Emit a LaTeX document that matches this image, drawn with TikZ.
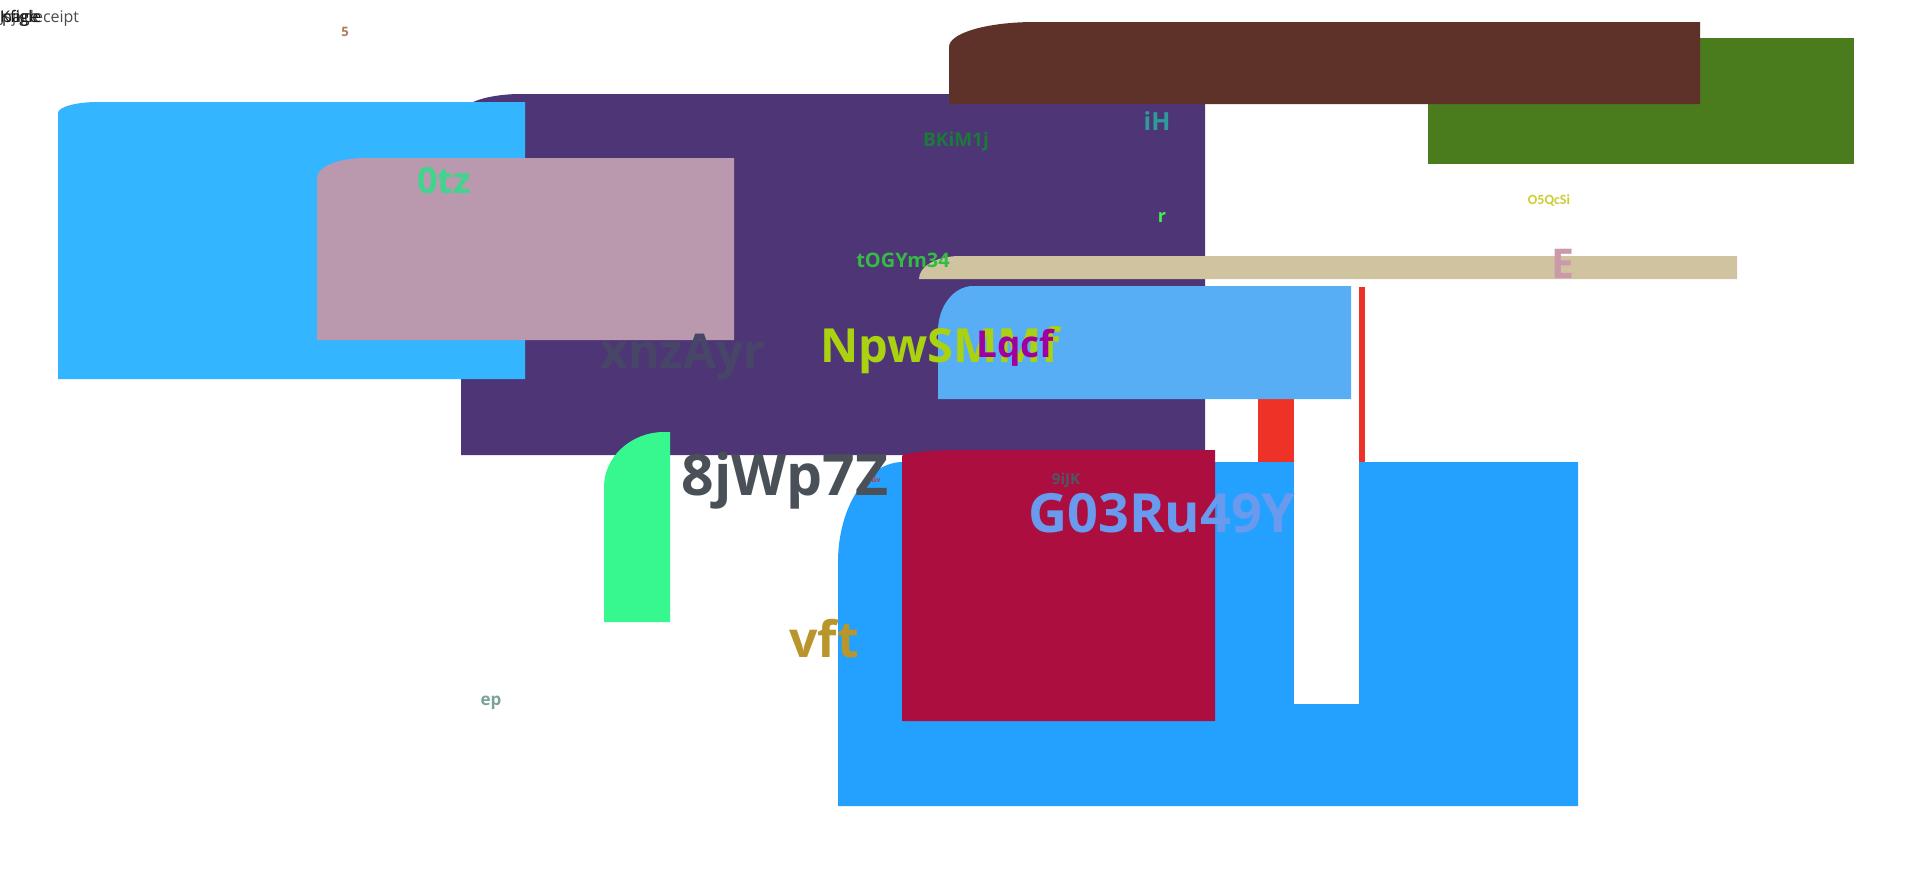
\documentclass[tikz,border=0pt]{standalone}
\usepackage{fontspec}
\setmainfont{Open Sans}
\newfontfamily\carl{Carlito}
\tikzset{
  lbl/.style={anchor=base, inner sep=0pt, font=\bfseries},
  toptxt/.style={anchor=base west, inner sep=0pt},
}
\newcommand{\fs}[1]{\fontsize{#1}{#1}\selectfont}
\definecolor{cBlueL}{HTML}{33B5FF}
\definecolor{cPurple}{HTML}{4E3575}
\definecolor{cPink}{HTML}{BA99AE}
\definecolor{cBrown}{HTML}{5E3229}
\definecolor{cGreen}{HTML}{4A7C1E}
\definecolor{cTan}{HTML}{D0C4A0}
\definecolor{cSky}{HTML}{58AEF5}
\definecolor{cRed}{HTML}{EF3228}
\definecolor{cBlueB}{HTML}{24A0FF}
\definecolor{cCrim}{HTML}{AD0E40}
\definecolor{cMint}{HTML}{36F88F}
\begin{document}
\begin{tikzpicture}[x=1pt,y=-1pt]
\useasboundingbox (0,0) rectangle (1920,870);
\fill[white] (0,0) rectangle (1920,870);
% purple
\fill[cPurple] (461,455) -- (461,114) .. controls (461,103) and (488,94) .. (521,94) -- (1205,94) -- (1205,455) -- cycle;
% left blue
\fill[cBlueL] (58,379) -- (58,113) .. controls (58,107) and (76,102) .. (98,102) -- (525,102) -- (525,379) -- cycle;
% pink
\fill[cPink] (317,340) -- (317,178) .. controls (317,167) and (338,158) .. (365,158) -- (734,158) -- (734,340) -- cycle;
% green
\fill[cGreen] (1428,38) rectangle (1854,164);
% brown
\fill[cBrown] (949,104) -- (949,47) .. controls (949,33) and (987,22) .. (1035,22) -- (1700,22) -- (1700,104) -- cycle;
% tan bar
\fill[cTan] (919,279) .. controls (919,266) and (937,256) .. (960,256) -- (1737,256) -- (1737,279) -- cycle;
% red rect and line
\fill[cRed] (1258,390) rectangle (1294,462);
\fill[cRed] (1359,287) rectangle (1365,462);
% light blue
\fill[cSky] (938,399) -- (938,331) .. controls (938,306) and (954,286) .. (973,286) -- (1351,286) -- (1351,399) -- cycle;
% big blue
\fill[cBlueB] (838,806) -- (838,562) .. controls (838,507) and (867,462) .. (903,462) -- (1578,462) -- (1578,806) -- cycle;
% white gap
\fill[white] (1294,462) rectangle (1359,704);
% crimson
\fill[cCrim] (902,721) -- (902,456) .. controls (902,453) and (929,450) .. (962,450) -- (1215,450) -- (1215,721) -- cycle;
% mint
\fill[cMint] (604,622) -- (604,487) .. controls (604,457) and (631,432) .. (664,432) -- (670,432) -- (670,622) -- cycle;
% texts
\node[toptxt, text=black!70, font=\fs{16}] (t0) at (0,22) {Jsjkdeceipt};
\node[toptxt, text=black!90, font=\fs{16}] (t0b) at (0,22) {Kfigle};
\node[toptxt, text=black!90, font=\fs{16}] (t0c) at (2,22) {page};
\node[lbl, text={rgb,255:red,176;green,122;blue,88}, font=\bfseries\fs{13}] (t5) at (345,36) {5};
\node[lbl, text={rgb,255:red,61;green,214;blue,140}, font=\bfseries\fs{36}] (t0tz) at (444,193) {0tz};
\node[lbl, text={rgb,255:red,26;green,122;blue,58}, font=\bfseries\fs{19}] (tbk) at (956,146) {BKiM1j};
\node[lbl, text={rgb,255:red,46;green,154;blue,154}, font=\bfseries\fs{25}] (tih) at (1157,130) {iH};
\node[lbl, text={rgb,255:red,68;green,238;blue,85}, font=\bfseries\fs{18}] (tr) at (1162,222) {r};
\node[lbl, text={rgb,255:red,204;green,204;blue,51}, font=\carl\bfseries\fs{14}] (to5) at (1549,204) {O5QcSi};
\node[lbl, text={rgb,255:red,51;green,187;blue,68}, font=\bfseries\fs{20}] (tog) at (903,267) {tOGYm34};
\node[lbl, text={rgb,255:red,204;green,153;blue,170}, font=\bfseries\fs{41}] (tE) at (1563,278) {E};
\node[lbl, text={rgb,255:red,72;green,70;blue,104}, font=\bfseries\fs{48}] (txn) at (683,368) {xnzAyr};
\node[lbl, text={rgb,255:red,170;green,210;blue,16}, font=\bfseries\fs{47}] (tnp) at (940,362) {NpwSMMf};
\node[lbl, text={rgb,255:red,160;green,0;blue,160}, font=\bfseries\fs{37}] (tlq) at (1015,357) {Lqcf};
\node[lbl, text={rgb,255:red,74;green,80;blue,88}, font=\bfseries\fs{57}] (t8j) at (785,495) {8jWp7Z};
\node[lbl, text={rgb,255:red,200;green,50;blue,50}, font=\bfseries\fs{7}] (tgv) at (876,482) {Gv};
\node[lbl, text={rgb,255:red,74;green,90;blue,100}, font=\bfseries\fs{15}] (t9i) at (1066,484) {9iJK};
\node[lbl, text={rgb,255:red,106;green,154;blue,238}, font=\bfseries\fs{54}] (tg0) at (1162,532) {G03Ru49Y};
\node[lbl, text={rgb,255:red,184;green,150;blue,44}, font=\bfseries\fs{50}] (tvf) at (824,657) {vft};
\node[lbl, text={rgb,255:red,122;green,163;blue,154}, font=\bfseries\fs{17}] (tep) at (491,705) {ep};
\end{tikzpicture}
\end{document}
